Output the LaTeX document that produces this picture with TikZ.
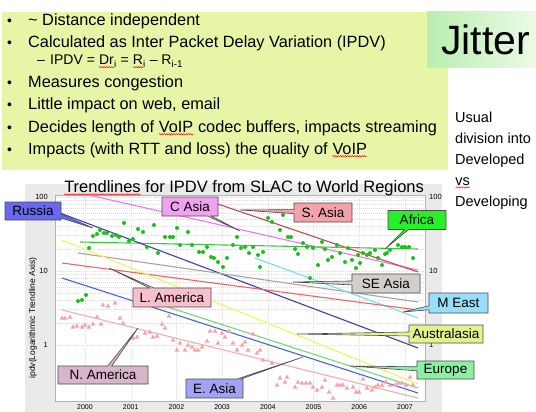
\documentclass[tikz,border=0pt]{standalone}
\usepackage{fontspec}
\setmainfont{Liberation Sans}
\usetikzlibrary{shapes.callouts,decorations.pathmorphing}

% Farben der Folie
\definecolor{slidelime}{RGB}{230,246,166}
\definecolor{jitgreen}{RGB}{186,238,176}
\definecolor{jitpale}{RGB}{236,250,230}
\definecolor{panelgray}{RGB}{234,234,234}
% Farben der Trendlinien
\definecolor{casiaLine}{RGB}{236,120,236}
\definecolor{sasiaLine}{RGB}{192,74,74}
\definecolor{africaLine}{RGB}{60,200,60}
\definecolor{russiaLine}{RGB}{62,62,172}
\definecolor{seasiaLine}{RGB}{165,165,165}
\definecolor{meastLine}{RGB}{110,226,236}
\definecolor{lamerLine}{RGB}{240,100,100}
\definecolor{easiaLine}{RGB}{70,100,222}
\definecolor{europeLine}{RGB}{110,222,110}
\definecolor{australLine}{RGB}{242,242,96}
\definecolor{namerLine}{RGB}{246,172,178}
% Farben der Beschriftungen
\definecolor{russiaFill}{RGB}{104,104,240}
\definecolor{casiaFill}{RGB}{240,162,240}
\definecolor{sasiaFill}{RGB}{244,162,170}
\definecolor{africaFill}{RGB}{40,240,40}
\definecolor{seasiaFill}{RGB}{210,206,202}
\definecolor{meastFill}{RGB}{150,222,250}
\definecolor{australFill}{RGB}{226,242,142}
\definecolor{europeFill}{RGB}{140,240,162}
\definecolor{lamerFill}{RGB}{248,192,202}
\definecolor{namerFill}{RGB}{216,182,202}
\definecolor{easiaFill}{RGB}{162,162,246}
\definecolor{dotGreen}{RGB}{28,190,28}
\definecolor{triPink}{RGB}{246,162,172}

% rot gewellte Unterstreichung (Rechtschreibpruefung)
\newcommand\redwave[1]{\tikz[baseline=(wv.base), x=1pt, y=1pt]{\node[inner sep=0pt, outer sep=0pt] (wv) {#1};
    \draw[red, line width=0.45pt, decorate, decoration={snake, amplitude=0.7pt, segment length=2.4pt}]
        ([yshift=-2.2pt]wv.base west) -- ([yshift=-2.2pt]wv.base east);}}

\tikzset{
  tag/.style={rectangle callout, draw=black!70, line width=0.6pt, inner sep=0pt,
    callout pointer width=4pt, font=\fontsize{13.5}{15}\selectfont},
  trend/.style={line width=1.1pt},
  gridline/.style={black!14, dash pattern=on 1pt off 1pt, line width=0.4pt},
  tick/.style={font=\fontsize{7.5}{9}\selectfont, inner sep=1pt},
  bullettext/.style={anchor=base west, inner sep=0pt, font=\fontsize{16.3}{19}\selectfont},
}

\begin{document}
\begin{tikzpicture}[x=1pt, y=-1pt]
    \useasboundingbox (0,0) rectangle (536,412);
    \clip (0,0) rectangle (536,412);

    % Kasten mit den Stichpunkten
    \fill[slidelime] (2,12) rectangle (448,170);
    \shade[left color=jitgreen, right color=jitpale] (427,12) rectangle (536,68);
    \node[anchor=base west, inner sep=0pt, font=\fontsize{41}{44}\selectfont] (jitter) at (441,55) {Jitter};

    \foreach \y in {26,48,88,110,132,154}
        \node[bullettext, font=\fontsize{14}{16}\selectfont] (mark\y) at (7,\y) {\textbullet};
    \node[bullettext] (b1) at (28,26) {\textasciitilde{} Distance independent};
    \node[bullettext] (b2) at (28,48) {Calculated as Inter Packet Delay Variation (IPDV)};
    \node[bullettext, font=\fontsize{14}{16}\selectfont] (subdash) at (37,65) {--};
    \node[bullettext, font=\fontsize{14}{16}\selectfont] (b2sub) at (50,65)
        {IPDV = \redwave{Dr}\textsubscript{i} = \redwave{R}\textsubscript{i} -- R\textsubscript{i-1}};
    \node[bullettext] (b3) at (28,88) {Measures congestion};
    \node[bullettext] (b4) at (28,110) {Little impact on web, email};
    \node[bullettext] (b5) at (28,132) {Decides length of \redwave{VoIP} codec buffers, impacts streaming};
    \node[bullettext] (b6) at (28,154) {Impacts (with RTT and loss) the quality of \redwave{VoIP}};

    % Text rechts
    \node[anchor=north west, align=left, inner sep=0pt, font=\fontsize{14.5}{21}\selectfont] (usual) at (455,111.5)
        {Usual\\division into\\Developed\\\redwave{vs}\\Developing};

    % Diagramm
    \fill[panelgray] (25,184) rectangle (442,412);
    \fill[white] (55,195) rectangle (425,401);
    \begin{scope}
        \clip (55,195) rectangle (425,401);
        % Gitter
        \foreach \k in {-1,0,1,2}
            \foreach \m in {1,...,9} {
                \pgfmathsetmacro\gy{271-74*(\k+log10(\m))}
                \draw[gridline] (55,\gy) -- (425,\gy);
            }
        \foreach \i in {0,...,7}
            \draw[gridline] (85+45.7*\i,195) -- (85+45.7*\i,401);

        % Trendlinien
        \draw[trend, casiaLine] (80,193) -- (418,270);
        \draw[trend, sasiaLine] (200,198) -- (418,272);
        \draw[trend, africaLine] (80,242) -- (418,249);
        \draw[trend, russiaLine] (60,213) -- (418,348);
        \draw[trend, seasiaLine] (78,253) -- (418,302);
        \draw[trend, meastLine] (255,258) -- (418,318);
        \draw[trend, lamerLine] (62,263) -- (418,310);
        \draw[trend, australLine] (62,240) -- (418,384);
        \draw[trend, europeLine] (140,298) -- (418,388);
        \draw[trend, easiaLine] (62,278) -- (418,393);
        \draw[trend, namerLine] (62,310) -- (418,398);

        % Messpunkte Afrika
        \foreach \px/\py in {78/301,82/300,86/295,89/248,93/236,97/234,100/230,104/233,107/233,
            112/236,116/235,119/237,124/223,129/241,133/239,138/229,143/232,147/247,154/225,
            158/253,165/237,170/237,173/237,177/228,180/245,188/232,192/245,199/252,203/252,
            207/247,211/257,214/258,218/262,223/267,227/258,233/245,237/237,241/248,245/247,
            249/253,253/247,258/255,260/267,263/252,268/218,272/222,280/230,283/215,288/237,
            291/237,295/249,298/254,303/243,307/247,310/278,313/248,318/265,322/242,325/249,
            328/260,332/257,337/245,340/253,345/262,348/248,352/260,356/268,358/255,360/263,
            363/253,367/255,370/253,375/250,378/258,382/265,385/254,387/253,390/250,398/245,
            402/247,405/247,409/247,413/258}
            \fill[dotGreen] (\px,\py) circle (2);

        % Messpunkte Nordamerika
        \foreach \px/\py in {62/318,65/318,70/317,73/327,77/326,82/327,85/325,89/327,93/324,
            97/317,101/324,103/305,108/306,115/303,120/318,123/323,133/338,137/337,145/333,
            150/332,153/337,157/336,162/324,165/328,169/316,173/340,177/350,180/343,185/350,
            188/345,192/347,195/350,198/350,202/347,207/341,210/331,215/331,218/343,222/333,
            225/337,229/331,233/343,237/350,242/345,245/342,248/350,253/334,257/353,260/350,
            263/360,272/363,277/385,280/378,285/382,287/377,295/387,298/382,302/383,306/383,
            310/383,313/387,317/390,322/387,325/380,329/392,333/398,337/385,340/385,343/385,
            347/388,353/387,356/392,359/392,363/379,367/388,372/390,375/387,378/385,382/385,
            386/382,390/385,395/385,398/383,402/383,406/385,410/377,413/385}
            \fill[triPink] (\px,\py) ++(0,-2.6) -- ++(2.4,4.3) -- ++(-4.8,0) -- cycle;
    \end{scope}
    \draw[black!30, line width=0.4pt] (55,195) rectangle (425,401);

    % Achsen
    \node[tick, anchor=east] (l100) at (49,197) {100};
    \node[tick, anchor=east] (l10) at (49,271) {10};
    \node[tick, anchor=east] (l1) at (49,345) {1};
    \node[tick, anchor=west] (r100) at (428,197) {100};
    \node[tick, anchor=west] (r10) at (428,271) {10};
    \node[tick, anchor=west] (r1) at (428,345) {1};
    \foreach \i in {0,...,7}
        \node[anchor=base, inner sep=0pt, font=\fontsize{7}{8}\selectfont] (year\i) at (85+45.7*\i,409.5) {\the\numexpr2000+\i\relax};
    \node[rotate=90, font=\fontsize{8.5}{10}\selectfont] (ylab) at (33,318) {ipdv(Logarithmic Trendline Axis)};
    \node[font=\fontsize{16.5}{19}\selectfont, inner sep=0pt] (title) at (244,188)
        {\redwave{Trendlines} for IPDV from SLAC to World Regions};

    % Spitzen der Beschriftungen
    \coordinate (russiaTip) at (93,228);
    \coordinate (casiaTip) at (240,231);
    \coordinate (sasiaTip) at (240,210);
    \coordinate (africaTip) at (385,249);
    \coordinate (seasiaTip) at (293,282);
    \coordinate (meastTip) at (403,312);
    \coordinate (australTip) at (297,334);
    \coordinate (europeTip) at (350,366);
    \coordinate (lamerTip) at (109,268);
    \coordinate (namerTip) at (138,328);
    \coordinate (easiaTip) at (303,357);

    % Beschriftungen
    \node[tag, fill=russiaFill, minimum width=56pt, minimum height=18pt, callout absolute pointer={(russiaTip)}] (russia) at (33,211) {Russia};
    \node[tag, fill=casiaFill, minimum width=56pt, minimum height=19pt, callout absolute pointer={(casiaTip)}] (casia) at (190,206.5) {C Asia};
    \node[tag, fill=sasiaFill, minimum width=58pt, minimum height=19pt, callout absolute pointer={(sasiaTip)}] (sasia) at (323,212.5) {S. Asia};
    \node[tag, fill=africaFill, minimum width=58pt, minimum height=19pt, callout absolute pointer={(africaTip)}] (africa) at (417,220) {Africa};
    \node[tag, fill=seasiaFill, minimum width=68pt, minimum height=19pt, callout absolute pointer={(seasiaTip)}] (seasia) at (386,283.5) {SE Asia};
    \node[tag, fill=meastFill, minimum width=59pt, minimum height=20pt, callout absolute pointer={(meastTip)}] (meast) at (458.5,303) {M East};
    \node[tag, fill=australFill, minimum width=74pt, minimum height=18pt, callout absolute pointer={(australTip)}] (austral) at (446,334) {Australasia};
    \node[tag, fill=europeFill, minimum width=57pt, minimum height=18pt, callout absolute pointer={(europeTip)}] (europe) at (445.5,370) {Europe};
    \node[tag, fill=lamerFill, minimum width=78pt, minimum height=19pt, callout absolute pointer={(lamerTip)}] (lamer) at (172,297.5) {L. America};
    \node[tag, fill=namerFill, minimum width=90pt, minimum height=18pt, callout absolute pointer={(namerTip)}] (namer) at (103,375) {N. America};
    \node[tag, fill=easiaFill, minimum width=57pt, minimum height=19pt, callout absolute pointer={(easiaTip)}] (easia) at (214.5,388.5) {E. Asia};
\end{tikzpicture}
\end{document}
